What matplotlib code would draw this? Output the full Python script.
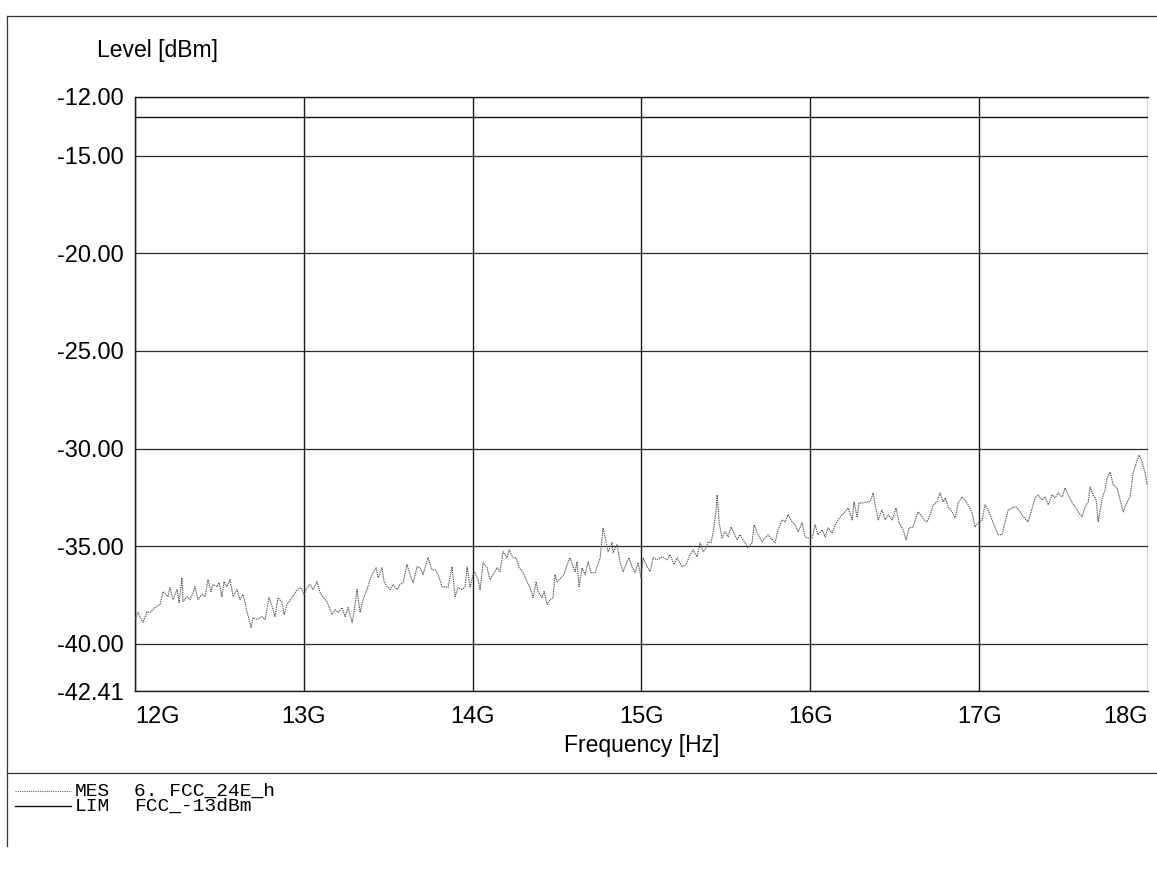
import matplotlib
matplotlib.use("Agg")
import matplotlib.pyplot as plt
from matplotlib.lines import Line2D

freq_ghz = [
    12.000, 12.018, 12.047, 12.071, 12.089, 12.118, 12.148, 12.166, 12.195, 12.207,
    12.225, 12.249, 12.261, 12.278, 12.284, 12.308, 12.326, 12.344, 12.355, 12.373,
    12.397, 12.415, 12.432, 12.450, 12.462, 12.486, 12.498, 12.515, 12.527, 12.545,
    12.563, 12.581, 12.604, 12.622, 12.640, 12.663, 12.675, 12.687, 12.699, 12.723,
    12.752, 12.770, 12.794, 12.818, 12.829, 12.847, 12.871, 12.883, 12.900, 12.930,
    12.960, 12.983, 13.001, 13.019, 13.037, 13.054, 13.078, 13.096, 13.114, 13.137,
    13.155, 13.167, 13.185, 13.203, 13.226, 13.244, 13.262, 13.286, 13.297, 13.315,
    13.333, 13.351, 13.374, 13.392, 13.410, 13.428, 13.440, 13.463, 13.475, 13.493,
    13.511, 13.528, 13.552, 13.570, 13.588, 13.611, 13.629, 13.647, 13.671, 13.688,
    13.706, 13.736, 13.759, 13.777, 13.795, 13.819, 13.836, 13.854, 13.878, 13.896,
    13.913, 13.937, 13.955, 13.967, 13.985, 14.002, 14.014, 14.032, 14.044, 14.062,
    14.085, 14.103, 14.121, 14.144, 14.162, 14.180, 14.204, 14.216, 14.239, 14.257,
    14.275, 14.299, 14.322, 14.340, 14.358, 14.376, 14.387, 14.411, 14.423, 14.441,
    14.458, 14.476, 14.488, 14.500, 14.524, 14.541, 14.559, 14.577, 14.595, 14.607,
    14.618, 14.630, 14.648, 14.666, 14.684, 14.701, 14.725, 14.755, 14.772, 14.790,
    14.802, 14.826, 14.832, 14.855, 14.873, 14.891, 14.915, 14.926, 14.944, 14.962,
    14.980, 14.998, 15.009, 15.033, 15.051, 15.069, 15.092, 15.122, 15.152, 15.169,
    15.193, 15.211, 15.240, 15.264, 15.288, 15.306, 15.329, 15.347, 15.365, 15.383,
    15.394, 15.412, 15.424, 15.442, 15.448, 15.460, 15.477, 15.495, 15.513, 15.531,
    15.543, 15.566, 15.584, 15.602, 15.631, 15.655, 15.667, 15.685, 15.714, 15.732,
    15.750, 15.774, 15.791, 15.809, 15.833, 15.851, 15.868, 15.892, 15.910, 15.928,
    15.951, 15.969, 15.987, 16.011, 16.028, 16.046, 16.070, 16.088, 16.105, 16.129,
    16.147, 16.165, 16.188, 16.206, 16.224, 16.248, 16.259, 16.277, 16.289, 16.313,
    16.330, 16.354, 16.372, 16.384, 16.402, 16.425, 16.443, 16.461, 16.485, 16.508,
    16.526, 16.550, 16.567, 16.585, 16.609, 16.627, 16.638, 16.662, 16.674, 16.692,
    16.710, 16.728, 16.751, 16.769, 16.787, 16.799, 16.816, 16.840, 16.858, 16.876,
    16.899, 16.917, 16.935, 16.958, 16.976, 16.994, 17.018, 17.035, 17.053, 17.077,
    17.095, 17.112, 17.136, 17.154, 17.172, 17.195, 17.219, 17.243, 17.266, 17.290,
    17.314, 17.332, 17.349, 17.373, 17.391, 17.409, 17.432, 17.450, 17.468, 17.492,
    17.509, 17.527, 17.551, 17.569, 17.586, 17.610, 17.628, 17.646, 17.657, 17.675,
    17.693, 17.705, 17.729, 17.746, 17.758, 17.776, 17.794, 17.817, 17.835, 17.853,
    17.877, 17.894, 17.912, 17.936, 17.948, 17.965, 17.983, 17.995,
]
level_dbm = [
    -38.75, -38.39, -38.90, -38.34, -38.39, -38.14, -37.98, -37.32, -37.58, -37.12,
    -37.73, -37.22, -37.88, -36.61, -37.83, -37.58, -37.73, -37.37, -37.07, -37.73,
    -37.47, -37.58, -36.71, -37.32, -36.96, -37.07, -36.86, -37.58, -36.81, -37.07,
    -36.71, -37.58, -37.22, -37.73, -37.47, -38.34, -38.75, -39.16, -38.65, -38.75,
    -38.60, -38.75, -37.63, -38.24, -38.60, -37.63, -37.88, -38.49, -37.98, -37.63,
    -37.22, -37.12, -37.47, -37.12, -36.96, -37.22, -36.81, -37.37, -37.63, -37.83,
    -38.24, -38.49, -38.24, -38.39, -38.14, -38.60, -38.14, -38.90, -38.39, -37.22,
    -38.39, -37.73, -37.22, -36.71, -36.35, -36.10, -36.61, -36.10, -36.81, -37.07,
    -37.22, -36.96, -37.22, -36.96, -36.86, -35.94, -36.45, -36.86, -36.05, -36.10,
    -36.45, -35.59, -36.20, -36.20, -36.45, -37.07, -37.07, -37.12, -36.05, -37.58,
    -37.12, -37.22, -37.07, -36.05, -37.12, -36.45, -36.35, -36.71, -37.22, -35.84,
    -36.10, -36.71, -36.45, -36.10, -36.30, -35.28, -35.59, -35.18, -35.59, -35.59,
    -36.10, -36.35, -36.81, -37.12, -37.63, -36.81, -37.32, -37.63, -37.32, -37.98,
    -37.73, -37.63, -36.45, -36.81, -36.61, -36.45, -35.94, -35.59, -36.05, -36.30,
    -35.79, -37.07, -36.10, -36.45, -35.79, -36.35, -36.35, -35.59, -34.06, -34.77,
    -35.28, -34.82, -35.33, -34.92, -35.79, -36.30, -35.79, -35.59, -36.05, -36.35,
    -35.84, -36.61, -35.59, -36.05, -36.30, -35.59, -35.69, -35.54, -35.69, -35.43,
    -35.94, -35.59, -36.05, -35.94, -35.43, -35.18, -35.54, -34.82, -35.28, -35.08,
    -34.77, -34.82, -34.31, -33.14, -32.37, -33.80, -34.57, -34.26, -34.52, -34.01,
    -34.26, -34.67, -34.41, -34.67, -35.08, -34.82, -33.90, -34.31, -34.77, -34.57,
    -34.41, -34.67, -34.82, -34.16, -33.65, -33.75, -33.39, -33.75, -33.90, -34.26,
    -33.80, -34.52, -34.57, -34.57, -33.90, -34.41, -34.16, -34.52, -34.06, -34.31,
    -33.90, -33.65, -33.39, -33.24, -33.04, -33.65, -32.73, -33.49, -32.78, -32.78,
    -32.73, -32.73, -32.27, -32.88, -33.65, -33.14, -33.65, -33.39, -33.65, -33.04,
    -33.80, -34.16, -34.67, -34.06, -34.01, -33.49, -33.24, -33.49, -33.65, -33.75,
    -33.39, -32.88, -32.73, -32.27, -32.73, -32.52, -32.98, -33.24, -33.54, -32.78,
    -32.47, -32.63, -32.88, -33.29, -34.01, -33.80, -33.65, -32.88, -33.14, -33.65,
    -34.06, -34.41, -34.41, -33.75, -33.14, -33.04, -32.98, -33.24, -33.54, -33.75,
    -33.04, -32.52, -32.37, -32.63, -32.47, -32.88, -32.37, -32.52, -32.27, -32.47,
    -32.01, -32.37, -32.78, -32.98, -33.24, -33.49, -32.98, -32.73, -31.96, -32.37,
    -32.63, -33.75, -32.52, -32.12, -31.51, -31.20, -31.86, -32.01, -32.63, -33.24,
    -32.73, -32.47, -31.25, -30.59, -30.33, -30.69, -31.25, -31.86,
]

# Limit line (LIM)
limit_freq_ghz = [12.0, 18.0]
limit_dbm = [-13.0, -13.0]

y_ticks = [-12.00, -15.00, -20.00, -25.00, -30.00, -35.00, -40.00, -42.41]
x_ticks = [12, 13, 14, 15, 16, 17, 18]
x_labels = ["12G", "13G", "14G", "15G", "16G", "17G", "18G"]

sans = "Liberation Sans"
mono = "Liberation Mono"

fig = plt.figure(figsize=(11.57, 8.93), dpi=100)
ax = fig.add_axes([0.1167, 0.2262, 0.8755, 0.6652])

# grid
for y in y_ticks:
    ax.axhline(y, color="#2a2a2a", linewidth=0.9, zorder=1)
for x in x_ticks:
    ax.axvline(x, color="#1a1a1a", linewidth=1.0, zorder=1)

# traces
ax.plot(limit_freq_ghz, limit_dbm, color="#111111", linewidth=1.0, zorder=2)
ax.plot(freq_ghz, level_dbm, color="#555555", linewidth=0.8,
        linestyle=(0, (1.2, 0.8)), zorder=3)

ax.set_xlim(12, 18)
ax.set_ylim(-42.41, -12.0)

ax.set_yticks(y_ticks)
ax.set_yticklabels(["%.2f" % v for v in y_ticks], fontfamily=sans, fontsize=17)
ax.set_xticks(x_ticks)
ax.set_xticklabels(x_labels, fontfamily=sans, fontsize=17)
ax.tick_params(axis="both", length=0)
ax.tick_params(axis="y", pad=8)
ax.tick_params(axis="x", pad=11)
labels = ax.get_xticklabels()
labels[0].set_horizontalalignment("left")
labels[-1].set_horizontalalignment("right")

for s in ax.spines.values():
    s.set_color("#1a1a1a")
    s.set_linewidth(1.0)
ax.spines["right"].set_visible(False)

fig.text(0.0838, 0.944, "Level [dBm]", fontfamily=sans, fontsize=16.5,
         ha="left", va="center")
fig.text(0.555, 0.1657, "Frequency [Hz]", fontfamily=sans, fontsize=16.5,
         ha="center", va="center")

# outer frame of the printout
fig.add_artist(Line2D([0.006, 1.0], [0.982, 0.982], color="#333333", linewidth=0.9))
fig.add_artist(Line2D([0.006, 0.006], [0.982, 0.053], color="#333333", linewidth=0.9))
fig.add_artist(Line2D([0.006, 1.0], [0.1344, 0.1344], color="#333333", linewidth=0.9))

# legend block
fig.add_artist(Line2D([0.013, 0.061], [0.1142, 0.1142], color="#666666",
                      linewidth=0.8, linestyle=(0, (1, 1))))
fig.add_artist(Line2D([0.013, 0.061], [0.0974, 0.0974], color="#111111", linewidth=1.0))
fig.text(0.065, 0.1142, "MES", fontfamily=mono, fontsize=14, ha="left", va="center")
fig.text(0.116, 0.1142, "6. FCC_24E_h", fontfamily=mono, fontsize=14, ha="left", va="center")
fig.text(0.065, 0.0974, "LIM", fontfamily=mono, fontsize=14, ha="left", va="center")
fig.text(0.116, 0.0974, "FCC_-13dBm", fontfamily=mono, fontsize=14, ha="left", va="center")

fig.savefig("out.png", dpi=100)
